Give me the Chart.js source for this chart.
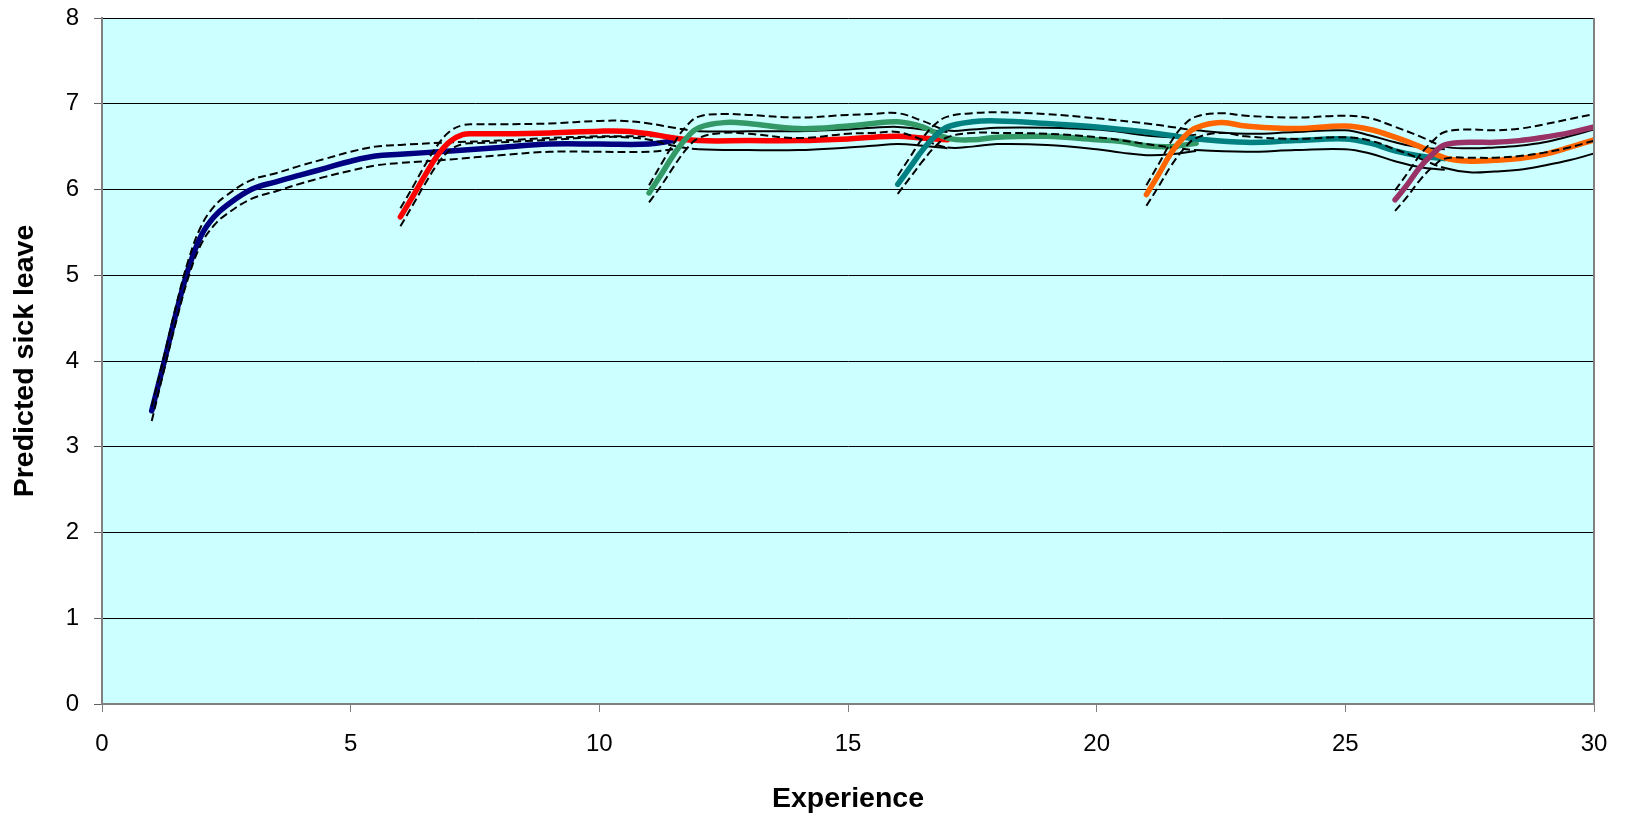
<!DOCTYPE html>
<html>
<head>
<meta charset="utf-8">
<script src="https://cdn.jsdelivr.net/npm/chart.js@4.4.1/dist/chart.umd.min.js"></script>
<style>
  html, body { margin: 0; padding: 0; background: #ffffff; }
  #wrap { width: 1626px; height: 816px; }
</style>
</head>
<body>
<div id="wrap"><canvas id="chart" width="1626" height="816"></canvas></div>
<script>
// Predicted sick leave by years of experience, one curve per entry cohort,
// each with its upper and lower confidence bound.

// Cohort entering at experience 1
const c1X   = [1, 1.25, 1.5, 1.75, 2, 2.25, 2.5, 3, 3.5, 4, 4.5, 5, 5.5, 6, 7, 8, 9, 10, 11, 11.5];
const c1Mid = [3.42, 3.99, 4.58, 5.10, 5.47, 5.68, 5.81, 6.00, 6.09, 6.17, 6.25, 6.33, 6.39, 6.41, 6.45, 6.49, 6.53, 6.53, 6.53, 6.57];
const c1Hi  = [3.47, 4.06, 4.67, 5.20, 5.58, 5.80, 5.93, 6.11, 6.19, 6.28, 6.36, 6.44, 6.50, 6.52, 6.55, 6.57, 6.60, 6.62, 6.62, 6.63];
const c1Lo  = [3.30, 3.90, 4.48, 5.00, 5.37, 5.58, 5.71, 5.89, 5.98, 6.07, 6.15, 6.22, 6.28, 6.31, 6.35, 6.40, 6.44, 6.44, 6.44, 6.47];

// Cohort entering at experience 6
const c2X   = [6, 6.25, 6.5, 6.75, 7, 7.25, 7.5, 8, 9, 10, 10.5, 11, 11.5, 12, 13, 14, 15, 15.5, 16, 16.5, 17];
const c2Mid = [5.68, 5.92, 6.17, 6.40, 6.56, 6.64, 6.65, 6.65, 6.66, 6.68, 6.68, 6.65, 6.60, 6.57, 6.57, 6.57, 6.59, 6.61, 6.62, 6.60, 6.58];
const c2Hi  = [5.78, 6.03, 6.29, 6.52, 6.68, 6.75, 6.76, 6.76, 6.77, 6.80, 6.80, 6.77, 6.72, 6.68, 6.68, 6.68, 6.70, 6.72, 6.73, 6.70, 6.67];
const c2Lo  = [5.57, 5.82, 6.07, 6.30, 6.46, 6.53, 6.54, 6.55, 6.58, 6.61, 6.61, 6.58, 6.51, 6.47, 6.46, 6.46, 6.49, 6.51, 6.53, 6.51, 6.48];

// Cohort entering at experience 11
const c3X   = [11, 11.25, 11.5, 11.75, 12, 12.5, 13, 14, 15, 15.5, 16, 16.5, 17, 17.5, 18, 19, 20, 20.5, 21, 21.5, 22];
const c3Mid = [5.96, 6.18, 6.41, 6.60, 6.72, 6.78, 6.77, 6.71, 6.74, 6.77, 6.79, 6.73, 6.60, 6.58, 6.61, 6.62, 6.58, 6.56, 6.51, 6.50, 6.54];
const c3Hi  = [6.05, 6.30, 6.54, 6.74, 6.85, 6.88, 6.87, 6.84, 6.87, 6.88, 6.89, 6.80, 6.69, 6.70, 6.72, 6.72, 6.70, 6.67, 6.63, 6.61, 6.64];
const c3Lo  = [5.85, 6.05, 6.27, 6.47, 6.60, 6.66, 6.65, 6.60, 6.65, 6.66, 6.67, 6.58, 6.49, 6.50, 6.53, 6.52, 6.47, 6.43, 6.40, 6.41, 6.45];

// Cohort entering at experience 16
const c4X   = [16, 16.25, 16.5, 16.75, 17, 17.5, 18, 19, 20, 21, 21.5, 22, 23, 24, 25, 25.5, 26, 26.5, 27];
const c4Mid = [6.06, 6.26, 6.46, 6.62, 6.73, 6.79, 6.80, 6.77, 6.73, 6.67, 6.63, 6.59, 6.55, 6.57, 6.59, 6.54, 6.45, 6.39, 6.36];
const c4Hi  = [6.16, 6.38, 6.60, 6.76, 6.85, 6.89, 6.90, 6.88, 6.83, 6.77, 6.73, 6.69, 6.65, 6.67, 6.69, 6.63, 6.55, 6.49, 6.47];
const c4Lo  = [5.95, 6.14, 6.33, 6.50, 6.61, 6.66, 6.66, 6.65, 6.61, 6.53, 6.49, 6.46, 6.44, 6.46, 6.47, 6.42, 6.33, 6.26, 6.23];

// Cohort entering at experience 21
const c5X   = [21, 21.25, 21.5, 21.75, 22, 22.5, 23, 24, 25, 25.5, 26, 26.5, 27, 27.5, 28, 28.5, 29, 29.5, 30];
const c5Mid = [5.94, 6.18, 6.43, 6.61, 6.72, 6.78, 6.74, 6.71, 6.74, 6.70, 6.61, 6.50, 6.37, 6.33, 6.34, 6.36, 6.41, 6.49, 6.58];
const c5Hi  = [6.05, 6.30, 6.56, 6.75, 6.85, 6.89, 6.86, 6.84, 6.86, 6.83, 6.73, 6.62, 6.50, 6.48, 6.49, 6.51, 6.55, 6.62, 6.70];
const c5Lo  = [5.81, 6.04, 6.28, 6.47, 6.60, 6.66, 6.62, 6.59, 6.61, 6.57, 6.47, 6.36, 6.25, 6.20, 6.21, 6.23, 6.28, 6.34, 6.42];

// Cohort entering at experience 26
const c6X   = [26, 26.25, 26.5, 26.75, 27, 27.5, 28, 28.5, 29, 29.5, 30];
const c6Mid = [5.88, 6.06, 6.26, 6.41, 6.52, 6.55, 6.55, 6.57, 6.61, 6.66, 6.73];
const c6Hi  = [5.99, 6.19, 6.40, 6.56, 6.67, 6.70, 6.69, 6.71, 6.76, 6.82, 6.88];
const c6Lo  = [5.75, 5.92, 6.11, 6.26, 6.36, 6.37, 6.37, 6.39, 6.43, 6.49, 6.57];

// Axis ticks
const xTicks = [0, 5, 10, 15, 20, 25, 30];
const yTicks = [0, 1, 2, 3, 4, 5, 6, 7, 8];

// Line colour per cohort and the experience from which its bounds turn solid
const cohorts = [
  { x: c1X, mid: c1Mid, hi: c1Hi, lo: c1Lo, color: '#000080', solidFrom: Infinity },
  { x: c2X, mid: c2Mid, hi: c2Hi, lo: c2Lo, color: '#ff0000', solidFrom: 12 },
  { x: c3X, mid: c3Mid, hi: c3Hi, lo: c3Lo, color: '#339966', solidFrom: 17 },
  { x: c4X, mid: c4Mid, hi: c4Hi, lo: c4Lo, color: '#008080', solidFrom: 22 },
  { x: c5X, mid: c5Mid, hi: c5Hi, lo: c5Lo, color: '#ff6600', solidFrom: 27 },
  { x: c6X, mid: c6Mid, hi: c6Hi, lo: c6Lo, color: '#993366', solidFrom: Infinity }
];

const FONT = "'Liberation Sans', Arial, Helvetica, sans-serif";

const datasets = [];
cohorts.forEach(c => {
  const pts = arr => c.x.map((x, i) => ({ x: x, y: arr[i] }));
  datasets.push({
    data: pts(c.mid),
    borderColor: c.color,
    borderWidth: 5.5,
    borderCapStyle: 'round',
    borderJoinStyle: 'round',
    tension: 0.4
  });
  [c.hi, c.lo].forEach(bound => {
    datasets.push({
      data: pts(bound),
      borderColor: '#000000',
      borderWidth: 2,
      tension: 0.4,
      segment: {
        borderDash: ctx => (ctx.p0.parsed.x >= c.solidFrom - 1e-6 ? [] : [8, 4])
      }
    });
  });
});
// later cohorts are painted over earlier ones
datasets.forEach((d, i) => {
  d.order = datasets.length - i;
  d.pointRadius = 0;
  d.pointHoverRadius = 0;
  d.fill = false;
});

const plotArea = {
  id: 'plotArea',
  beforeDraw(chart) {
    const { ctx, chartArea: a } = chart;
    ctx.save();
    ctx.fillStyle = '#ccffff';
    ctx.fillRect(a.left, a.top, a.right - a.left, a.bottom - a.top);
    ctx.restore();
  },
  afterDraw(chart) {
    const { ctx, chartArea: a } = chart;
    ctx.save();
    ctx.strokeStyle = '#808080';
    ctx.lineWidth = 2;
    ctx.beginPath();
    ctx.moveTo(a.right, a.top);
    ctx.lineTo(a.right, a.bottom);
    ctx.stroke();
    ctx.restore();
  }
};

new Chart(document.getElementById('chart'), {
  type: 'line',
  data: { datasets: datasets },
  plugins: [plotArea],
  options: {
    responsive: false,
    animation: false,
    events: [],
    layout: { padding: { left: 0, right: 32, top: 18, bottom: 0 } },
    plugins: { legend: { display: false }, tooltip: { enabled: false } },
    scales: {
      x: {
        type: 'linear',
        min: 0,
        max: 30,
        afterBuildTicks: s => { s.ticks = xTicks.map(v => ({ value: v })); },
        afterFit: s => { s.height = 112; s.paddingLeft = 0; s.paddingRight = 0; },
        ticks: { color: '#000', font: { family: FONT, size: 24 }, padding: 18, maxRotation: 0 },
        grid: { drawOnChartArea: false, drawTicks: true, tickLength: 8, color: '#808080', lineWidth: 1 },
        border: { color: '#808080', width: 2 },
        title: {
          display: true,
          text: 'Experience',
          color: '#000',
          font: { family: FONT, size: 28.5, weight: 'bold', lineHeight: 1 },
          padding: { top: 0, bottom: 3 }
        }
      },
      y: {
        min: 0,
        max: 8,
        afterBuildTicks: s => { s.ticks = yTicks.map(v => ({ value: v })); },
        afterFit: s => { s.width = 102; s.paddingTop = 0; s.paddingBottom = 0; },
        ticks: { color: '#000', font: { family: FONT, size: 24 }, padding: 15 },
        grid: { color: '#000000', lineWidth: 1, drawTicks: true, tickLength: 8, tickColor: '#606060' },
        border: { color: '#808080', width: 2 },
        title: {
          display: true,
          text: 'Predicted sick leave',
          color: '#000',
          font: { family: FONT, size: 28.5, weight: 'bold', lineHeight: 1 },
          padding: { top: 11, bottom: 0 }
        }
      }
    }
  }
});
</script>
</body>
</html>
